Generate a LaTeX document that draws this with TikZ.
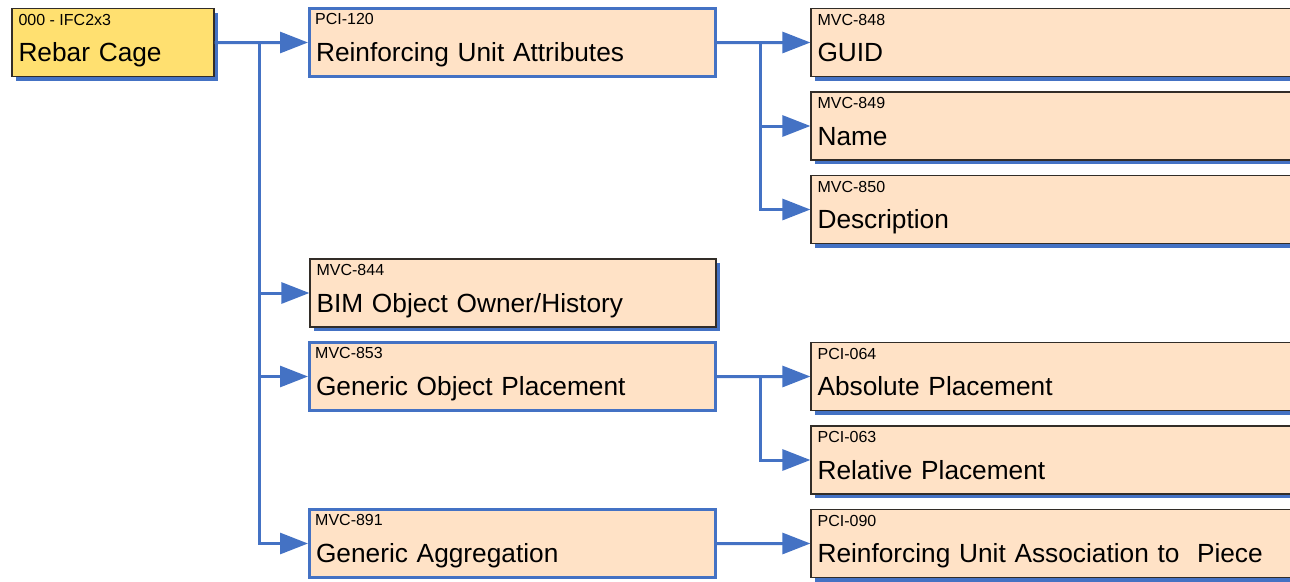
\documentclass[tikz,border=0pt]{standalone}
\usepackage{fontspec}
\setmainfont{Liberation Sans}
\usetikzlibrary{arrows.meta,shadows}
\definecolor{linkblue}{RGB}{68,114,196}
\definecolor{boxpeach}{RGB}{255,226,198}
\definecolor{rootyellow}{RGB}{255,224,112}
\definecolor{boxedge}{RGB}{50,45,40}
\begin{document}
\begin{tikzpicture}[ x=0.75pt, y=-0.75pt,
  box/.style={anchor=north west, shape=rectangle, fill=boxpeach, inner xsep=4.9pt, inner ysep=0pt,
    minimum height=51pt, text height=31.5pt, text depth=3pt, align=left, font=\fontsize{19.7}{22}\selectfont},
  leaf/.style={box, draw=boxedge, line width=0.9pt,
    drop shadow={shadow xshift=3pt, shadow yshift=-3pt, fill=linkblue, opacity=1}},
  parent/.style={box, draw=linkblue, line width=2.25pt, text width=294.7pt},
  idtext/.style={anchor=base west, inner sep=0pt, xshift=5.2pt, yshift=-13.1pt, font=\fontsize{12}{14}\selectfont},
  link/.style={draw=linkblue, line width=2.25pt, -{Triangle[length=21pt,width=15.75pt]}},
]
\useasboundingbox (0,0) rectangle (1290,582);
\clip (0,0) rectangle (1290,582);

\node[leaf, fill=rootyellow, text width=141.75pt, label={[idtext]north west:000 - IFC2x3}] (cage) at (11.4,7.9) {Rebar Cage};

\node[parent, label={[idtext]north west:PCI-120}] (pci120) at (308,7) {Reinforcing Unit Attributes};
\node[leaf, text width=294.7pt, label={[idtext]north west:MVC-844}] (mvc844) at (309.4,258.4) {BIM Object Owner/History};
\node[parent, label={[idtext]north west:MVC-853}] (mvc853) at (308,341) {Generic Object Placement};
\node[parent, label={[idtext]north west:MVC-891}] (mvc891) at (308,508) {Generic Aggregation};

\node[leaf, text width=387.7pt, label={[idtext]north west:MVC-848}] (mvc848) at (810.4,7.9) {GUID};
\node[leaf, text width=387.7pt, label={[idtext]north west:MVC-849}] (mvc849) at (810.4,91.4) {Name};
\node[leaf, text width=387.7pt, label={[idtext]north west:MVC-850}] (mvc850) at (810.4,174.9) {Description};
\node[leaf, text width=387.7pt, label={[idtext]north west:PCI-064}] (pci064) at (810.4,341.9) {Absolute Placement};
\node[leaf, text width=387.7pt, label={[idtext]north west:PCI-063}] (pci063) at (810.4,425.4) {Relative Placement};
\node[leaf, text width=387.7pt, label={[idtext]north west:PCI-090}] (pci090) at (810.4,508.9) {Reinforcing Unit Association to\ \ Piece};

\coordinate (fork1) at (259,42.5);
\coordinate (fork2) at (760,42.5);
\coordinate (fork3) at (760,376.5);

\draw[link] (cage.east) -- (pci120.west);
\draw[link] (fork1) |- (mvc844.west);
\draw[link] (fork1) |- (mvc853.west);
\draw[link] (fork1) |- (mvc891.west);

\draw[link] (pci120.east) -- (mvc848.west);
\draw[link] (fork2) |- (mvc849.west);
\draw[link] (fork2) |- (mvc850.west);

\draw[link] (mvc853.east) -- (pci064.west);
\draw[link] (fork3) |- (pci063.west);

\draw[link] (mvc891.east) -- (pci090.west);

\end{tikzpicture}
\end{document}
